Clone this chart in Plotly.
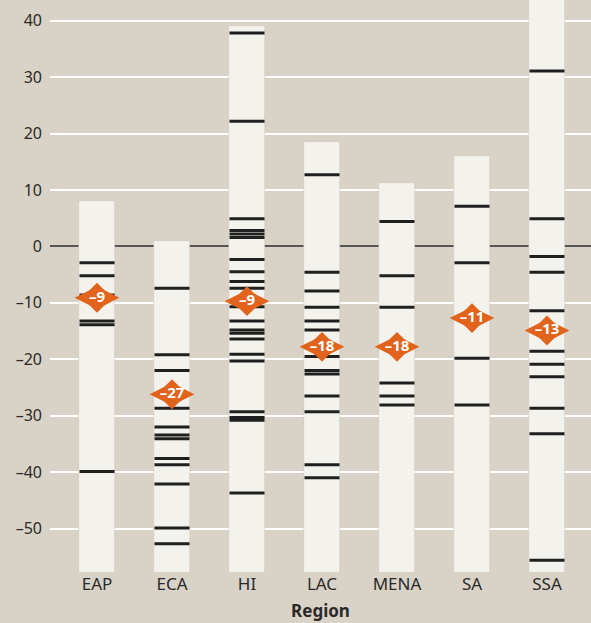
import plotly.graph_objects as go

regions = ["EAP", "ECA", "HI", "LAC", "MENA", "SA", "SSA"]

# top of each region's strip
strip_top = [8.0, 1.0, 39.1, 18.5, 11.2, 16.0, 46.0]
strip_base = -58.5

# individual country values (black ticks)
values = {
    "EAP": [-2.9, -5.2, -8.6, -13.2, -13.9, -39.9],
    "ECA": [-7.4, -19.2, -22.0, -28.7, -32.0, -33.4, -34.1, -37.6, -38.7, -42.1, -49.9, -52.7],
    "HI": [37.8, 22.2, 4.9, 2.8, 2.2, 1.6, -2.3, -4.5, -6.2, -7.4, -10.7, -13.2, -14.8, -15.4,
           -16.4, -19.1, -20.3, -29.3, -30.3, -30.8, -43.7],
    "LAC": [12.7, -4.6, -7.9, -10.8, -13.2, -14.8, -19.5, -22.0, -22.6, -26.5, -29.3, -38.7, -41.0],
    "MENA": [4.4, -5.2, -10.8, -24.2, -26.5, -28.1],
    "SA": [7.1, -2.9, -19.8, -28.1],
    "SSA": [31.1, 4.9, -1.8, -4.6, -11.4, -18.6, -20.9, -23.1, -28.7, -33.2, -55.6],
}

# medians (orange diamonds)
median_pos = [-9.1, -26.2, -9.7, -17.8, -17.8, -12.7, -14.9]
median_labels = ["–9", "–27", "–9", "–18", "–18", "–11", "–13"]

y_ticks = [-50, -40, -30, -20, -10, 0, 10, 20, 30, 40]
y_ticktext = [str(v).replace("-", "–") for v in y_ticks]

BG = "#d9d2c6"
ORANGE = "#e2631c"
FONT = "Noto Sans"

fig = go.Figure()

fig.add_trace(go.Bar(
    x=regions, y=[t - strip_base for t in strip_top], base=strip_base,
    width=0.47, marker=dict(color="#f4f2ed", line=dict(color="rgba(190,184,172,0.6)", width=0.6)),
    hoverinfo="skip", showlegend=False,
))

for r in regions:
    fig.add_trace(go.Scatter(
        x=[r] * len(values[r]), y=values[r], mode="markers",
        marker=dict(symbol="line-ew", size=25, line=dict(width=3, color="#1f1f1f")),
        showlegend=False, hoverinfo="y",
    ))

# diamond badge: wide diamond + square diamond overlaid
fig.add_trace(go.Scatter(
    x=regions, y=median_pos, mode="markers",
    marker=dict(symbol="diamond-wide", size=32, color=ORANGE),
    showlegend=False, hoverinfo="skip",
))
fig.add_trace(go.Scatter(
    x=regions, y=median_pos, mode="markers+text",
    marker=dict(symbol="diamond", size=23, color=ORANGE),
    text=median_labels, textposition="middle center",
    textfont=dict(family=FONT, size=15, color="white", weight="bold"),
    showlegend=False, hoverinfo="text",
))

fig.update_layout(
    width=591, height=623,
    paper_bgcolor=BG, plot_bgcolor=BG,
    margin=dict(l=50, r=0, t=0, b=51),
    font=dict(family=FONT, color="#2a2a2a"),
    bargap=0,
    xaxis=dict(
        range=[-0.627, 6.587], showgrid=False, zeroline=False, showline=False, ticks="",
        tickfont=dict(size=17, color="#2a2a2a"),
        title=dict(text="<b>Region</b>", font=dict(size=17, color="#2a2a2a"), standoff=11),
    ),
    yaxis=dict(
        range=[-57.7, 43.67], tickvals=y_ticks, ticktext=y_ticktext,
        showgrid=True, gridcolor="white", gridwidth=1.5,
        zeroline=True, zerolinecolor="#555555", zerolinewidth=2,
        showline=False, ticks="", ticklabelstandoff=7,
        tickfont=dict(size=16, color="#2a2a2a"),
    ),
)

fig.write_html("out.html", config={"displayModeBar": False},
               post_script="document.body.style.margin='0';")
